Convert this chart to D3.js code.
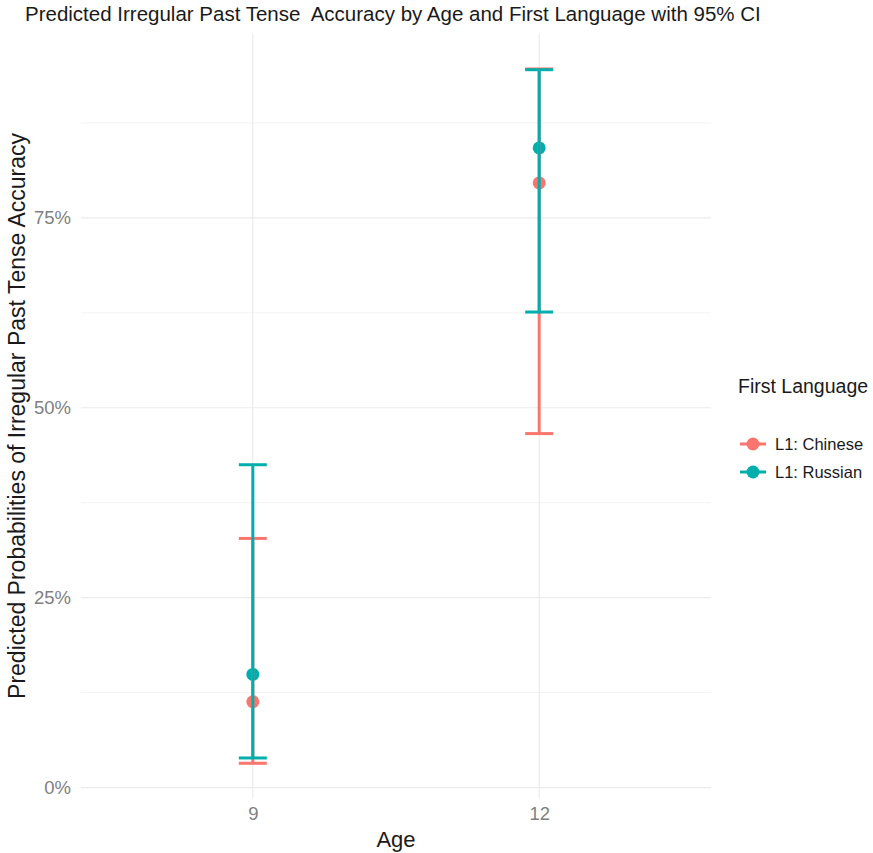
<!DOCTYPE html>
<html><head><meta charset="utf-8">
<script src="https://cdn.jsdelivr.net/npm/d3@7"></script>
<style>body{margin:0;background:#fff;} text{font-family:"Liberation Sans",Arial,sans-serif;}</style>
</head><body>
<svg id="chart" width="873" height="853"></svg>
<script>
const ages = ["9", "12"];
const languages = ["L1: Chinese", "L1: Russian"];
const colors = ["#F8766D", "#00AFAD"];
const predicted = { "L1: Chinese": [0.113, 0.796], "L1: Russian": [0.149, 0.842] };
const lowerCI = { "L1: Chinese": [0.032, 0.466], "L1: Russian": [0.039, 0.626] };
const upperCI = { "L1: Chinese": [0.328, 0.946], "L1: Russian": [0.425, 0.945] };
const yTicks = [0, 0.25, 0.5, 0.75];
const yMinor = [0.125, 0.375, 0.625, 0.875];

const svg = d3.select("#chart");
const panel = { left: 81, right: 711, top: 34, bottom: 798 };

const x = d3.scalePoint().domain(ages).range([panel.left, panel.right]).padding(0.6);
const y = d3.scaleLinear().domain([-0.0137, 0.992]).range([panel.bottom, panel.top]);
const color = d3.scaleOrdinal().domain(languages).range(colors);

// gridlines
const g = svg.append("g");
g.selectAll(".minor").data(yMinor).join("line")
  .attr("x1", panel.left).attr("x2", panel.right)
  .attr("y1", d => y(d)).attr("y2", d => y(d))
  .attr("stroke", "#ebebeb").attr("stroke-width", 0.6);
g.selectAll(".major").data(yTicks).join("line")
  .attr("x1", panel.left).attr("x2", panel.right)
  .attr("y1", d => y(d)).attr("y2", d => y(d))
  .attr("stroke", "#ebebeb").attr("stroke-width", 1.2);
g.selectAll(".vmajor").data(ages).join("line")
  .attr("x1", d => x(d)).attr("x2", d => x(d))
  .attr("y1", panel.top).attr("y2", panel.bottom)
  .attr("stroke", "#ebebeb").attr("stroke-width", 1.2);

// axes
const yAxis = d3.axisLeft(y).tickValues(yTicks).tickFormat(d3.format(".0%")).tickSize(0).tickPadding(10);
const ya = svg.append("g").attr("transform", `translate(${panel.left},0)`).call(yAxis);
ya.select(".domain").remove();
ya.selectAll("text").attr("font-size", 18.5).attr("fill", "#7f7f7f").style("font-family", "Liberation Sans, Arial, sans-serif");

const xAxis = d3.axisBottom(x).tickSize(0).tickPadding(9);
const xa = svg.append("g").attr("transform", `translate(0,${panel.bottom})`).call(xAxis);
xa.select(".domain").remove();
xa.selectAll("text").attr("font-size", 18.5).attr("fill", "#7f7f7f").style("font-family", "Liberation Sans, Arial, sans-serif");

// data rows
const rows = [];
languages.forEach(l => ages.forEach((a, i) => rows.push({ lang: l, age: a, p: predicted[l][i], lo: lowerCI[l][i], hi: upperCI[l][i] })));

// points
svg.append("g").selectAll("circle").data(rows).join("circle")
  .attr("cx", d => x(d.age)).attr("cy", d => y(d.p)).attr("r", 6.5)
  .attr("fill", d => color(d.lang));

// error bars
const capW = 14;
const eb = svg.append("g").selectAll("g").data(rows).join("g")
  .attr("stroke", d => color(d.lang)).attr("stroke-width", 3).attr("fill", "none");
eb.append("line").attr("x1", d => x(d.age)).attr("x2", d => x(d.age)).attr("y1", d => y(d.lo)).attr("y2", d => y(d.hi));
eb.append("line").attr("x1", d => x(d.age) - capW).attr("x2", d => x(d.age) + capW).attr("y1", d => y(d.lo)).attr("y2", d => y(d.lo));
eb.append("line").attr("x1", d => x(d.age) - capW).attr("x2", d => x(d.age) + capW).attr("y1", d => y(d.hi)).attr("y2", d => y(d.hi));

// titles
svg.append("text").attr("x", 25).attr("y", 21).attr("font-size", 20.5).attr("fill", "#1a1a1a")
  .style("white-space", "pre").text("Predicted Irregular Past Tense  Accuracy by Age and First Language with 95% CI");
svg.append("text").attr("x", (panel.left + panel.right) / 2).attr("y", 847).attr("text-anchor", "middle")
  .attr("font-size", 22).attr("fill", "#1a1a1a").text("Age");
svg.append("text").attr("transform", `translate(25,${(panel.top + panel.bottom) / 2}) rotate(-90)`)
  .attr("text-anchor", "middle").attr("font-size", 23).attr("fill", "#1a1a1a")
  .text("Predicted Probabilities of Irregular Past Tense Accuracy");

// legend
const lg = svg.append("g").attr("transform", "translate(738,0)");
lg.append("text").attr("x", 0).attr("y", 393).attr("font-size", 19.5).attr("fill", "#1a1a1a").text("First Language");
const items = lg.selectAll(".item").data(languages).join("g")
  .attr("transform", (d, i) => `translate(0,${444 + i * 28})`);
items.append("line").attr("x1", 2).attr("x2", 28).attr("y1", 0).attr("y2", 0)
  .attr("stroke", d => color(d)).attr("stroke-width", 3);
items.append("circle").attr("cx", 15).attr("cy", 0).attr("r", 6.5).attr("fill", d => color(d));
items.append("text").attr("x", 37).attr("y", 6).attr("font-size", 16.5).attr("fill", "#1a1a1a").text(d => d);
</script>
</body></html>
